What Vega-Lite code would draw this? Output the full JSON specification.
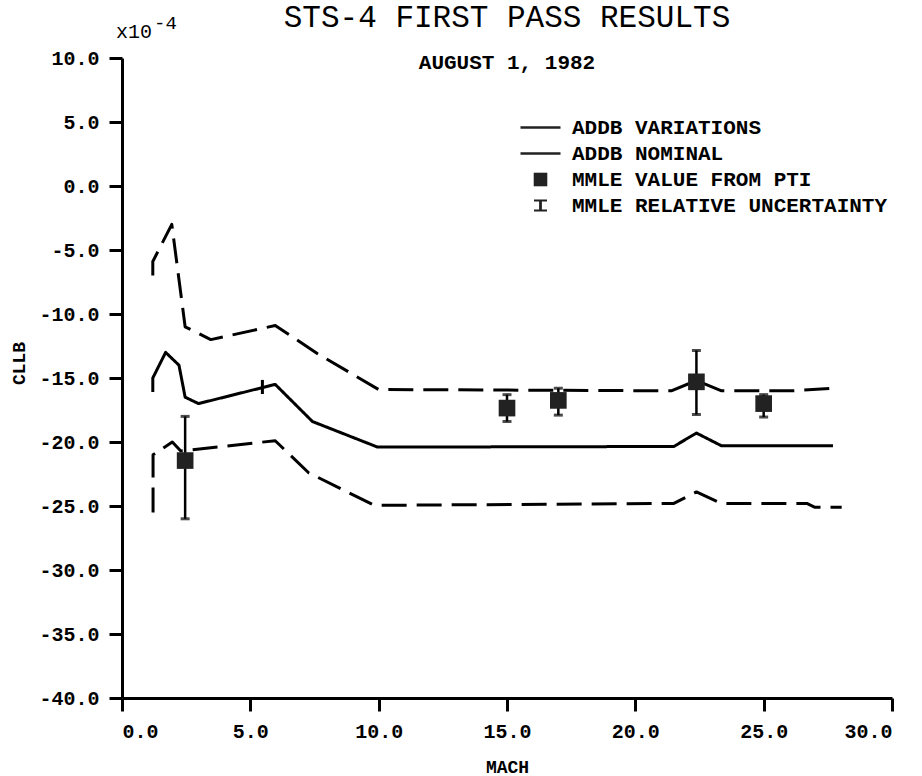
{
  "$schema": "https://vega.github.io/schema/vega-lite/v6.json",
  "width": 770,
  "height": 640,
  "autosize": {"type": "none"},
  "padding": {"left": 122, "top": 58, "right": 30, "bottom": 78},
  "background": "white",
  "config": {
    "font": "Liberation Mono",
    "view": {"stroke": null},
    "axis": {
      "grid": false,
      "domainColor": "black",
      "domainWidth": 3,
      "tickColor": "black",
      "tickWidth": 3,
      "tickSize": 13,
      "labelFont": "Liberation Mono",
      "labelFontWeight": "bold",
      "labelFontSize": 20,
      "labelColor": "black",
      "titleFont": "Liberation Mono",
      "titleFontWeight": "bold",
      "titleFontSize": 18,
      "titleColor": "black"
    }
  },
  "title": {
    "text": "STS-4 FIRST PASS RESULTS",
    "subtitle": "AUGUST 1, 1982",
    "anchor": "middle",
    "font": "Liberation Mono",
    "fontSize": 31,
    "fontWeight": "normal",
    "color": "black",
    "subtitleFont": "Liberation Mono",
    "subtitleFontSize": 21,
    "subtitleFontWeight": "bold",
    "subtitleColor": "black",
    "subtitlePadding": 18,
    "offset": -60
  },
  "datasets": {
    "lines": [
      {"curve": "upper", "i": 1, "mach": 1.2, "cllb": -7.0},
      {"curve": "upper", "i": 2, "mach": 1.2, "cllb": -5.9},
      {"curve": "upper", "i": 3, "mach": 1.94, "cllb": -3.0},
      {"curve": "upper", "i": 4, "mach": 2.46, "cllb": -11.0},
      {"curve": "upper", "i": 5, "mach": 3.46, "cllb": -12.0},
      {"curve": "upper", "i": 6, "mach": 5.97, "cllb": -10.9},
      {"curve": "upper", "i": 7, "mach": 7.62, "cllb": -13.1},
      {"curve": "upper", "i": 8, "mach": 10.0, "cllb": -15.9},
      {"curve": "upper", "i": 9, "mach": 21.4, "cllb": -16.0},
      {"curve": "upper", "i": 10, "mach": 22.38, "cllb": -15.2},
      {"curve": "upper", "i": 11, "mach": 23.36, "cllb": -16.0},
      {"curve": "upper", "i": 12, "mach": 26.1, "cllb": -16.0},
      {"curve": "upper", "i": 13, "mach": 27.7, "cllb": -15.8},
      {"curve": "nominal", "i": 1, "mach": 1.2, "cllb": -16.1},
      {"curve": "nominal", "i": 2, "mach": 1.2, "cllb": -15.0},
      {"curve": "nominal", "i": 3, "mach": 1.7, "cllb": -13.0},
      {"curve": "nominal", "i": 4, "mach": 2.22, "cllb": -14.0},
      {"curve": "nominal", "i": 5, "mach": 2.46, "cllb": -16.5},
      {"curve": "nominal", "i": 6, "mach": 2.98, "cllb": -17.0},
      {"curve": "nominal", "i": 7, "mach": 5.97, "cllb": -15.5},
      {"curve": "nominal", "i": 8, "mach": 7.42, "cllb": -18.4},
      {"curve": "nominal", "i": 9, "mach": 9.96, "cllb": -20.4},
      {"curve": "nominal", "i": 10, "mach": 21.5, "cllb": -20.35},
      {"curve": "nominal", "i": 11, "mach": 22.38, "cllb": -19.3},
      {"curve": "nominal", "i": 12, "mach": 23.36, "cllb": -20.3},
      {"curve": "nominal", "i": 13, "mach": 27.7, "cllb": -20.3},
      {"curve": "lower", "i": 1, "mach": 1.21, "cllb": -25.5},
      {"curve": "lower", "i": 2, "mach": 1.21, "cllb": -21.0},
      {"curve": "lower", "i": 3, "mach": 1.96, "cllb": -20.0},
      {"curve": "lower", "i": 4, "mach": 2.29, "cllb": -20.7},
      {"curve": "lower", "i": 5, "mach": 5.97, "cllb": -19.9},
      {"curve": "lower", "i": 6, "mach": 7.27, "cllb": -22.4},
      {"curve": "lower", "i": 7, "mach": 9.83, "cllb": -24.95},
      {"curve": "lower", "i": 8, "mach": 21.5, "cllb": -24.8},
      {"curve": "lower", "i": 9, "mach": 22.38, "cllb": -23.9},
      {"curve": "lower", "i": 10, "mach": 23.36, "cllb": -24.8},
      {"curve": "lower", "i": 11, "mach": 26.68, "cllb": -24.8},
      {"curve": "lower", "i": 12, "mach": 27.0, "cllb": -25.1},
      {"curve": "lower", "i": 13, "mach": 28.04, "cllb": -25.1}
    ],
    "mmle": [
      {"series": "MMLE VALUE FROM PTI", "mach": 2.46, "cllb": -21.45, "lo": -26.0, "hi": -18.0},
      {"series": "MMLE VALUE FROM PTI", "mach": 15.0, "cllb": -17.35, "lo": -18.4, "hi": -16.3},
      {"series": "MMLE VALUE FROM PTI", "mach": 17.0, "cllb": -16.75, "lo": -17.9, "hi": -15.8},
      {"series": "MMLE VALUE FROM PTI", "mach": 22.38, "cllb": -15.3, "lo": -17.85, "hi": -12.85},
      {"series": "MMLE VALUE FROM PTI", "mach": 25.0, "cllb": -17.0, "lo": -18.05, "hi": -16.3}
    ],
    "marktick": [
      {"mach": 5.47, "lo": -16.25, "hi": -15.15}
    ],
    "exponent": [
      {"mach": 0, "cllb": 10, "base": "x10", "exp": "-4"}
    ]
  },
  "layer": [
    {
      "data": {"name": "lines"},
      "mark": {"type": "line", "color": "black", "strokeWidth": 3, "strokeCap": "butt", "strokeJoin": "round"},
      "encoding": {
        "x": {"field": "mach", "type": "quantitative", "scale": {"domain": [0, 30], "nice": false, "zero": false},
          "axis": {"values": [0, 5, 10, 15, 20, 25, 30], "format": ".1f", "title": "MACH", "labelPadding": 10, "titleY": 69, "titleBaseline": "middle", "titleAnchor": "middle"}},
        "y": {"field": "cllb", "type": "quantitative", "scale": {"domain": [-40, 10], "nice": false, "zero": false},
          "axis": {"values": [-40, -35, -30, -25, -20, -15, -10, -5, 0, 5, 10], "labelExpr": "replace(format(datum.value, '.1f'), '\u2212', '-')", "title": "CLLB", "labelPadding": 10, "titleX": -103, "titleY": 305, "titleAngle": -90, "titleAlign": "center", "titleBaseline": "middle"}},
        "detail": {"field": "curve"},
        "order": {"field": "i", "type": "quantitative"},
        "strokeDash": {"field": "curve", "type": "nominal", "scale": {"domain": ["upper", "nominal", "lower"], "range": [[25, 10], [1, 0], [25, 10]]}, "legend": null}
      }
    },
    {
      "data": {"name": "marktick"},
      "mark": {"type": "rule", "color": "black", "strokeWidth": 3},
      "encoding": {
        "x": {"field": "mach", "type": "quantitative"},
        "y": {"field": "lo", "type": "quantitative"},
        "y2": {"field": "hi"}
      }
    },
    {
      "data": {"name": "mmle"},
      "mark": {"type": "rule", "color": "black", "strokeWidth": 2.5},
      "encoding": {
        "x": {"field": "mach", "type": "quantitative"},
        "y": {"field": "lo", "type": "quantitative"},
        "y2": {"field": "hi"}
      }
    },
    {
      "data": {"name": "mmle"},
      "mark": {"type": "tick", "orient": "horizontal", "color": "black", "size": 9, "thickness": 3},
      "encoding": {
        "x": {"field": "mach", "type": "quantitative"},
        "y": {"field": "lo", "type": "quantitative"}
      }
    },
    {
      "data": {"name": "mmle"},
      "mark": {"type": "tick", "orient": "horizontal", "color": "black", "size": 9, "thickness": 3},
      "encoding": {
        "x": {"field": "mach", "type": "quantitative"},
        "y": {"field": "hi", "type": "quantitative"}
      }
    },
    {
      "data": {"name": "mmle"},
      "mark": {"type": "point", "filled": true, "color": "#222222", "opacity": 1, "size": 600},
      "encoding": {
        "x": {"field": "mach", "type": "quantitative"},
        "y": {"field": "cllb", "type": "quantitative"},
        "shape": {
          "field": "series", "type": "nominal",
          "scale": {
            "domain": ["ADDB VARIATIONS", "ADDB NOMINAL", "MMLE VALUE FROM PTI", "MMLE RELATIVE UNCERTAINTY"],
            "range": [
              "M-2,-0.13H2V0.13H-2Z",
              "M-2,-0.13H2V0.13H-2Z",
              "M-0.68,-0.68H0.68V0.68H-0.68Z",
              "M-0.65,-0.6H0.65V-0.4H0.14V0.4H0.65V0.6H-0.65V0.4H-0.14V-0.4H-0.65Z"
            ]
          },
          "legend": {
            "title": null,
            "orient": "none",
            "legendX": 408,
            "legendY": 59,
            "padding": 0,
            "symbolSize": 400,
            "symbolStrokeWidth": 0,
            "symbolFillColor": "#111111",
            "symbolOpacity": 1,
            "labelFont": "Liberation Mono",
            "labelFontSize": 21,
            "labelFontWeight": "bold",
            "labelColor": "black",
            "labelOffset": 21,
            "labelLimit": 500,
            "rowPadding": 4
          }
        }
      }
    },
    {
      "data": {"name": "exponent"},
      "mark": {"type": "text", "align": "left", "baseline": "alphabetic", "dx": -6, "dy": -20, "fontSize": 20, "font": "Liberation Mono", "color": "black"},
      "encoding": {
        "x": {"field": "mach", "type": "quantitative"},
        "y": {"field": "cllb", "type": "quantitative"},
        "text": {"field": "base"}
      }
    },
    {
      "data": {"name": "exponent"},
      "mark": {"type": "text", "align": "left", "baseline": "alphabetic", "dx": 32, "dy": -29, "fontSize": 19, "font": "Liberation Mono", "color": "black"},
      "encoding": {
        "x": {"field": "mach", "type": "quantitative"},
        "y": {"field": "cllb", "type": "quantitative"},
        "text": {"field": "exp"}
      }
    }
  ]
}
